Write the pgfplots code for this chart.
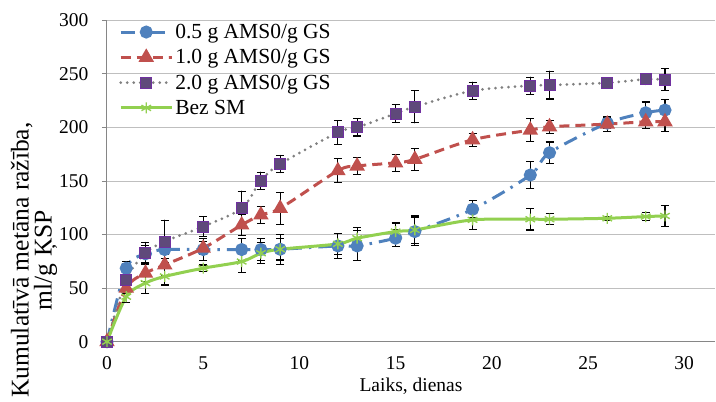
\documentclass[border=0pt]{standalone}
\usepackage{pgfplots}
\usepackage{pgfplotstable}
\pgfplotsset{compat=1.18}
\usepackage{fontspec}
\setmainfont{Liberation Serif}
\definecolor{cblue}{HTML}{4F81BD}
\definecolor{cred}{HTML}{C0504D}
\definecolor{cgray}{HTML}{808080}
\definecolor{cpurp}{HTML}{5F497A}
\definecolor{cpurpe}{HTML}{7030A0}
\definecolor{cgreen}{HTML}{92D050}
\definecolor{cgrid}{HTML}{BFBFBF}
\definecolor{caxis}{HTML}{868686}

\pgfplotstableread{
x y e
0 0 0
1 68.6 6
2 82 8
3 86 8
5 86 10
7 86 10
8 86 10
9 86.3 14
12 89.4 12
13 89.4 14
15 96.6 8
16 102.8 13
19 123.6 8
22 155.6 13
23 176.4 10
26 204 5
28 213.7 10
29 216.2 10
}\tblA
\pgfplotstableread{
x y e
0 0 0
1 50 5
2 64 8
3 71.7 10
5 87.3 6
7 109 10
8 118.3 8
9 124.5 15
12 159.6 11
13 164 8
15 167 8
16 170.2 10
19 188.5 6
22 197.5 11
23 200.6 6
26 203.1 7
28 205.3 6
29 205.3 9
}\tblB
\pgfplotstableread{
x y e
0 0 0
1 57.8 5
2 82.6 10
3 93.5 20
5 107.5 9
7 124.5 16
8 150.3 8
9 165.8 8
12 195.4 11
13 200 8
15 213 8
16 219.3 15
19 234.2 8
22 239 8
23 239.5 13
26 241.6 0
28 245 5
29 244.7 10
}\tblC
\pgfplotstableread{
x y e
0 0 0
1 42 5
2 54.7 10
3 60.9 8
5 68.6 3
7 74.8 10
8 82.6 10
9 86.3 10
12 91.3 10
13 96.6 10
15 102.8 8
16 104.3 13
19 113.7 9
22 114.3 10
23 114.3 5
26 115.2 2
28 116.8 4
29 117.4 10
}\tblD

\begin{document}
\begin{tikzpicture}
\begin{axis}[
  name=ax,
  scale only axis,
  width=608pt, height=321.4pt,
  xmin=0, xmax=31.6, ymin=0, ymax=300,
  xtick={0,5,...,30}, ytick={0,50,...,300},
  axis x line*=bottom, axis y line*=left,
  axis line style={-, caxis, line width=1pt},
  ymajorgrids, grid style={cgrid, line width=1pt},
  xtick style={draw=none},
  ytick style={caxis, line width=1pt},
  tick align=outside, major tick length=5pt,
  font=\fontsize{19.5}{23}\selectfont,
  ticklabel style={font=\fontsize{19.5}{23}\selectfont},
  /pgf/number format/assume math mode=true,
  yticklabel style={xshift=-10pt},
  xticklabel style={yshift=-6pt},
  xlabel={Laiks, dienas},
  xlabel style={yshift=-2pt},
  ylabel={Kumulatīvā metāna ražība,\\ml/g ĶSP},
  ylabel style={at={(rel axis cs:-0.12,0.254)}, anchor=center, align=center,
    font=\fontsize{25.5}{23}\selectfont},
  legend style={at={(rel axis cs:0.018,0.998)}, anchor=north west, draw=none, fill=none,
    font=\fontsize{21.5}{24}\selectfont, row sep=5.5pt, inner sep=1pt,
    cells={anchor=west}},
  legend image code/.code={
    \draw[mark repeat=2,mark phase=2,#1] plot coordinates {(0cm,0cm) (0.9cm,0cm) (1.8cm,0cm)};
  },
  error bars/y dir=both, error bars/y explicit,
  error bars/error mark=|,
  error bars/error bar style={black, line width=1.1pt, solid},
  error bars/error mark options={black, mark size=4pt, line width=1.1pt, solid},
]
\addplot[cblue, line width=3pt, dash pattern=on 14pt off 7pt on 2.5pt off 7pt, smooth,
  mark=*, mark size=5pt, mark options={solid, fill=cblue, draw=cblue}]
  table[x=x, y=y, y error=e]{\tblA};
\addlegendentry{0.5 g AMS0/g GS}
\addplot[cred, line width=3pt, dash pattern=on 10pt off 6pt, smooth,
  mark=triangle*, mark size=6pt, mark options={solid, fill=cred, draw=cred}]
  table[x=x, y=y, y error=e]{\tblB};
\addlegendentry{1.0 g AMS0/g GS}
\addplot[cgray, line width=3pt, dash pattern=on 0pt off 6.5pt, line cap=round, smooth,
  mark=square*, mark size=5.5pt, mark options={solid, fill=cpurp, draw=cpurpe, line width=1pt}]
  table[x=x, y=y, y error=e]{\tblC};
\addlegendentry{2.0 g AMS0/g GS}
\addplot[cgreen, line width=3pt, smooth,
  mark=asterisk, mark size=5.5pt, mark options={solid, draw=cgreen, line width=1.4pt}]
  table[x=x, y=y, y error=e]{\tblD};
\addlegendentry{Bez SM}
\end{axis}
\path ([shift={(-107pt,-58.3pt)}]ax.south west) rectangle ([shift={(1pt,20.3pt)}]ax.north east);
\end{tikzpicture}
\end{document}
